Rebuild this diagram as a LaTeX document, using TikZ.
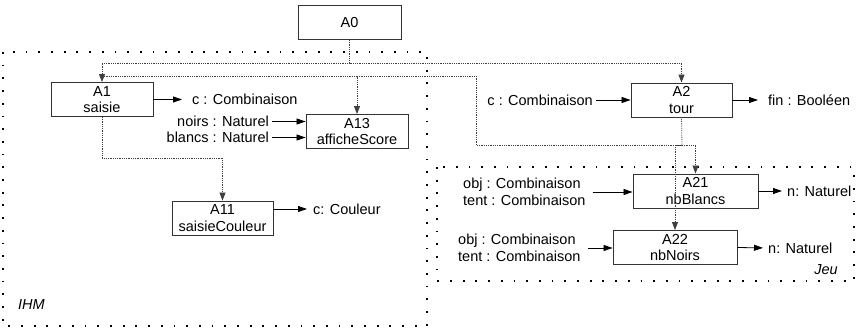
\documentclass[tikz,border=0pt]{standalone}
\usepackage{fontspec}
\setmainfont{Liberation Sans}
\usetikzlibrary{arrows.meta}
\tikzset{
  fonction/.style={draw=black!80, line width=0.9pt, minimum height=34pt, inner sep=0pt, align=center},
  donnee/.style={inner sep=0pt, align=left},
  flux/.style={-{Triangle[length=9pt,width=6pt]}, line width=0.8pt},
  decomp/.style={densely dotted, line width=0.8pt, black!75},
  decompfl/.style={decomp, -{Triangle[length=8pt,width=6pt]}},
  zone/.style={line width=1.8pt, dash pattern=on 1.8pt off 10.9pt},
}

\begin{document}
\begin{tikzpicture}[x=1pt, y=-1pt, font=\fontsize{14.5}{16.5}\selectfont]
		%%%%% START %%%%%
		\useasboundingbox (0,0) rectangle (857,329);
		
		\draw[zone] (3,52) rectangle (427,326);
		\draw[zone] (437,167) rectangle (854,281);
		\node[anchor=west, inner sep=0pt, font=\fontsize{14.5}{16.5}\selectfont\itshape] (ihm) at (18,305) {IHM};
		\node[anchor=east, inner sep=0pt, font=\fontsize{14.5}{16.5}\selectfont\itshape] (jeu) at (838,270) {Jeu};
		
		\node[fonction, minimum width=103pt] (a0) at (349.5,22.5) {A0};
		\node[fonction, minimum width=102pt] (a1) at (102,99.5) {A1\\saisie};
		\node[fonction, minimum width=102pt] (a13) at (357,131.5) {A13\\afficheScore};
		\node[fonction, minimum width=101pt] (a11) at (222.5,218) {A11\\saisieCouleur};
		\node[fonction, minimum width=101pt] (a2) at (681.5,100) {A2\\tour};
		\node[fonction, minimum width=125pt] (a21) at (695.5,191) {A21\\nbBlancs};
		\node[fonction, minimum width=124pt] (a22) at (675,247.5) {A22\\nbNoirs};
		
		\node[donnee, anchor=west] (c1) at (192,99.5) {c : Combinaison};
		\node[donnee, anchor=east] (noirs) at (269,121.5) {noirs : Naturel};
		\node[donnee, anchor=east] (blancs) at (269,137.5) {blancs : Naturel};
		\node[donnee, anchor=west] (coul) at (313,209) {c: Couleur};
		\node[donnee, anchor=east] (c2) at (593,100) {c : Combinaison};
		\node[donnee, anchor=west] (fin) at (768,100) {fin : Booléen};
		\node[donnee, anchor=west] (e21) at (463,192) {obj : Combinaison\\tent : Combinaison};
		\node[donnee, anchor=west] (s21) at (787,191) {n: Naturel};
		\node[donnee, anchor=west] (e22) at (458,248) {obj : Combinaison\\tent : Combinaison};
		\node[donnee, anchor=west] (s22) at (768,248) {n: Naturel};
		
		% flux de donnees
		\draw[flux, shorten >=10pt] (a1.east) -- (c1.west);
		\draw[flux, shorten <=3pt] (noirs.east) -- (noirs.east -| a13.west);
		\draw[flux, shorten <=3pt] (blancs.east) -- (blancs.east -| a13.west);
		\draw[flux, shorten >=6pt] (a11.east |- coul.west) -- (coul.west);
		\draw[flux, shorten <=3pt] (c2.east) -- (a2.west);
		\draw[flux, shorten >=10pt] (a2.east) -- (fin.west);
		\draw[flux, shorten <=7pt] (e21.east) -- (e21.east -| a21.west);
		\draw[flux, shorten >=5pt] (a21.east) -- (s21.west);
		\draw[flux, shorten <=7pt] (e22.east) -- (e22.east -| a22.west);
		\draw[flux, shorten >=5pt] (a22.east) -- (s22.west);
		
		% decomposition
		\coordinate (j0) at (349.5,63);
		\coordinate (j1) at (102,76);
		\coordinate (k1) at (476,76);
		\coordinate (j2) at (682,145);
		\coordinate (j3) at (102,158);
		\draw[decomp] (a0.south) -- (j0);
		\draw[decompfl] (j0) -| (a1.north);
		\draw[decompfl] (j0) -| (a2.north);
		\draw[decompfl] (j1) -| (a13.north);
		\draw[decomp] (a13.north |- j1) -- (k1) |- (j2);
		\draw[decomp] (a2.south) -- (j2);
		\draw[decompfl] (j2) -| (a21.north);
		\draw[decompfl] (j2) -| (a22.north);
		\draw[decompfl] (a1.south) -- (j3) -| (a11.north);
		%%%%% END %%%%%
\end{tikzpicture}
\end{document}
